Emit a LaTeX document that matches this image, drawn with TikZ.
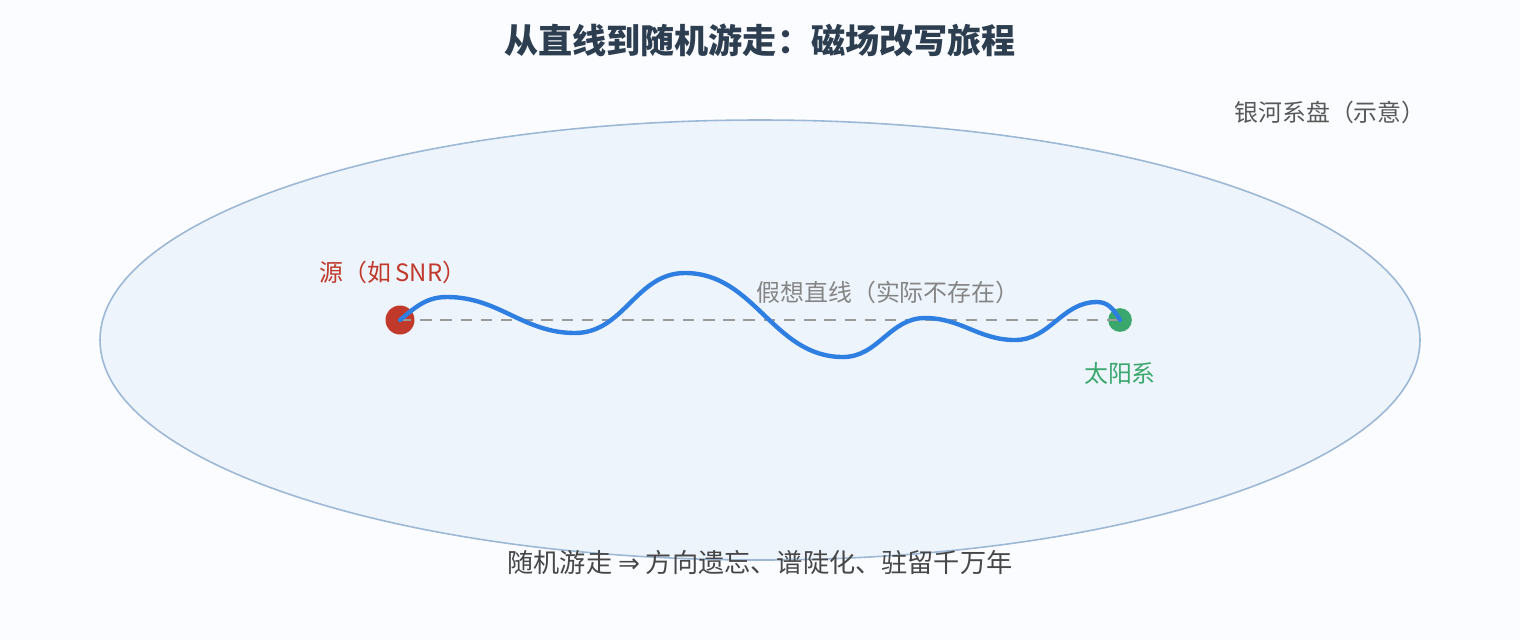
\documentclass[tikz,border=0pt]{standalone}
\usepackage{fontspec}
\setmainfont{Noto Sans CJK SC}
\newfontfamily\symfont{DejaVu Sans}
\usepackage{tikz}
\usetikzlibrary{calc}
\definecolor{bgcol}{HTML}{FAFCFF}
\definecolor{diskfill}{HTML}{EDF4FB}
\definecolor{diskline}{HTML}{9DB8D6}
\definecolor{titlecol}{HTML}{2C3E50}
\definecolor{srccol}{HTML}{C0392B}
\definecolor{suncol}{HTML}{3AA76D}
\definecolor{walkcol}{HTML}{2F7FE3}
\definecolor{linecol}{HTML}{9A9A9A}
\tikzstyle{dot} = [circle, inner sep=0pt]
\tikzstyle{label} = [font=\fontsize{13.6}{16}\selectfont, inner sep=0pt]
\tikzstyle{walk} = [walkcol, line width=2.5pt, line cap=round]

\begin{document}
\begin{tikzpicture}[x = 0.02cm, y = -0.02cm]
	\useasboundingbox[fill=bgcol] (0, 0) rectangle (1520, 640) ;
	
	\draw[diskline, fill=diskfill, line width=0.9pt] (760, 340) ellipse [x radius=660, y radius=220] ;
	
	\node[font=\fontsize{19.4}{23}\selectfont\bfseries, text=titlecol] (title) at (760, 40) {从直线到随机游走：磁场改写旅程} ;
	\node[label, text=black!65] (disk) at (1330, 112) {银河系盘（示意）} ;
	
	\node[dot, fill=srccol, minimum size=16.5pt] (S) at (400, 320) {} ;
	\node[dot, fill=suncol, minimum size=13.5pt] (E) at (1120, 320) {} ;
	
	\node[label, text=srccol] (Slab) at (393, 272) {源（如\,SNR）} ;
	\node[label, text=suncol] (Elab) at (1120, 373) {太阳系} ;
	\node[label, text=black!48] (straight) at (888, 292) {假想直线（实际不存在）} ;
	
	\draw[linecol, line width=1.5pt, dash pattern=on 6.5pt off 5pt] (S.center) -- (E.center) ;
	
	\draw[walk] (S.center) to[out=40, in=180] (447, 297) to[out=0, in=180] (575, 333) to[out=0, in=180] (685, 273)
		to[out=0, in=180] (843, 357) to[out=0, in=180] (925, 318) to[out=0, in=180] (1015, 340)
		to[out=0, in=180] (1097, 302) to[out=0, in=120] (E.center) ;
	
	\node[font=\fontsize{14.9}{18}\selectfont, text=black!72] (note) at (760, 562) {随机游走 {\symfont ⇒} 方向遗忘、谱陡化、驻留千万年} ;
	
\end{tikzpicture}
\end{document}
